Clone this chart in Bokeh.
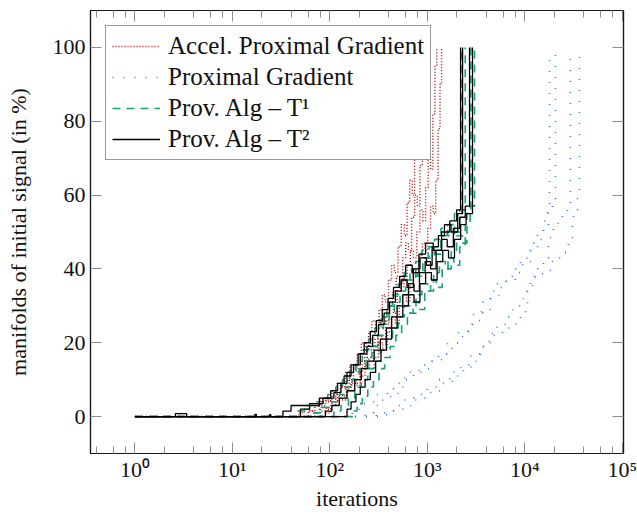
from bokeh.plotting import figure
from bokeh.models import (Legend, LegendItem, LogAxis, LinearAxis, FixedTicker,
                          LogTicker, CustomJSTickFormatter)
from bokeh.embed import file_html
from bokeh.resources import INLINE

FONT = "Liberation Serif"

# ---------------- axis ticks ----------------
x_ticks = [1, 10, 100, 1000, 10000, 100000]
x_tick_labels = ["10⁰", "10¹", "10²", "10³", "10⁴", "10⁵"]
y_ticks = [0, 20, 40, 60, 80, 100]

series_names = ["Accel. Proximal Gradient", "Proximal Gradient",
                "Prov. Alg – T¹", "Prov. Alg – T²"]

# ---------------- Accel. Proximal Gradient (4 runs) ----------------
apg1_it = [1, 48, 55, 62, 70, 80, 92, 105, 118, 130, 145, 160, 175, 190, 210, 230, 250, 270, 295, 320,
           345, 370, 400, 430, 460, 500, 540, 580, 620, 660, 700, 740, 780, 820, 860, 900, 930]
apg1_pc = [0, 1, 2, 1.5, 3, 5, 4, 7, 9, 8, 12, 14, 13, 17, 20, 18, 23, 26, 24, 29,
           33, 31, 37, 41, 39, 46, 52, 49, 58, 64, 60, 70, 78, 74, 88, 95, 100]
apg2_it = [1, 60, 68, 78, 90, 102, 115, 128, 142, 158, 175, 195, 215, 240, 265, 290, 315, 345, 375, 405,
           440, 480, 520, 560, 600, 640, 690, 740, 790, 840, 890, 940, 990, 1040]
apg2_pc = [0, 1.5, 1, 3, 4.5, 4, 6, 8, 7.5, 10, 13, 12, 15, 18, 21, 19, 24, 27, 25, 31,
           34, 38, 36, 43, 47, 45, 54, 60, 57, 68, 76, 85, 92, 100]
apg3_it = [1, 70, 80, 92, 105, 120, 135, 150, 168, 185, 205, 228, 252, 280, 310, 340, 375, 410, 450, 490,
           530, 575, 620, 670, 720, 780, 840, 900, 960, 1020, 1080, 1140, 1200, 1250]
apg3_pc = [0, 1, 2.5, 2, 4, 6, 5.5, 8, 10, 9, 13, 16, 15, 19, 22, 21, 26, 30, 28, 34,
           37, 35, 41, 45, 43, 50, 56, 53, 62, 70, 67, 82, 95, 100]
apg4_it = [1, 80, 90, 102, 115, 130, 148, 165, 185, 205, 230, 255, 285, 315, 350, 390, 430, 470, 515, 560,
           610, 660, 715, 770, 830, 890, 950, 1010, 1080, 1150, 1220, 1290, 1350, 1400]
apg4_pc = [0, 1.5, 1, 3, 5, 4.5, 7, 9, 8.5, 11, 14, 13, 16, 20, 18, 23, 27, 25, 30, 33,
           31, 36, 40, 38, 44, 47, 45, 51, 57, 55, 64, 78, 90, 100]

# ---------------- Proximal Gradient (4 runs) ----------------
pg1_it = [1, 170, 200, 245, 300, 390, 450, 532, 640, 721, 850, 1080, 1300, 1611, 2090, 2600, 2980,
          3700, 4450, 5250, 6400, 7500, 9030, 10500, 12270, 13490, 15550, 17090, 17910]
pg1_pc = [0, 1.5, 3.5, 4, 6, 7.5, 9, 10.5, 12, 12.5, 14, 15, 17, 20, 23, 25, 28,
          31, 34, 36, 38, 40, 42, 45, 47, 50, 53, 56, 98.4]
pg2_it = [1, 230, 280, 350, 420, 500, 600, 720, 900, 1100, 1400, 1800, 2300, 2900, 3600, 4400, 5400,
          6500, 8000, 9500, 11500, 13500, 15500, 17500, 19230, 20630]
pg2_pc = [0, 1, 3, 4.5, 6, 8, 10, 12, 13, 15, 17, 20, 23, 26, 29, 32, 35,
          37, 39, 42, 45, 48, 51, 55, 59, 98.4]
pg3_it = [1, 300, 400, 450, 560, 700, 850, 1000, 1300, 1700, 2200, 2800, 3500, 4300, 5200, 6300, 7500,
          9000, 10500, 12000, 13490, 15550, 17500, 19690, 22000, 24340, 27400, 29400]
pg3_pc = [0, 1, 1.6, 3, 4.5, 5, 6, 8, 10, 12, 14, 16.5, 19, 22, 25, 27, 30,
          32, 35, 38, 40, 43, 48.5, 51, 52.6, 55, 57.7, 98.4]
pg4_it = [1, 350, 450, 560, 673, 853, 1080, 1400, 1800, 2350, 2800, 3270, 3770, 4450, 5900, 7480, 9030,
          10170, 10660, 11430, 13490, 15550, 17500, 19230, 21640, 24920, 28060, 29400, 30800, 31550,
          34700, 35500, 36360]
pg4_pc = [0, 0.5, 1.6, 3, 4.5, 5, 7, 9, 11, 13, 15, 17, 19, 22.5, 24, 25, 28,
          30, 34, 37.7, 38.7, 39, 39.6, 42, 43, 44.4, 47, 48.5, 52, 56,
          59, 60, 98.4]

# ---------------- Prov. Alg - T1 (4 runs) ----------------
t1a_it = [1, 45, 55, 70, 95, 115, 135, 160, 185, 215, 250, 290, 335, 385, 440, 505, 580, 665, 760, 880,
          1020, 1180, 1380, 1620, 1900, 2250]
t1a_pc = [0, 1.5, 3, 4, 6, 8, 10, 12, 15, 18, 21, 24, 27, 30, 33, 36, 39, 37, 42, 45,
          43, 48, 51, 49, 55, 100]
t1b_it = [1, 65, 80, 100, 125, 145, 170, 200, 235, 270, 310, 355, 405, 460, 525, 600, 690, 790, 900, 1040,
          1200, 1380, 1600, 1850, 2150, 2450]
t1b_pc = [0, 1, 2.5, 4, 6, 8, 10, 13, 16, 19, 22, 25, 28, 31, 34, 37, 40, 38, 43, 46,
          44, 49, 52, 50, 56, 100]
t1c_it = [1, 110, 130, 155, 180, 210, 245, 285, 330, 380, 440, 505, 580, 665, 765, 880, 1010, 1160, 1330,
          1530, 1760, 2000, 2300, 2550, 2800]
t1c_pc = [0, 1.5, 3, 5, 8, 10, 13, 15, 18, 21, 24, 27, 30, 28, 33, 36, 34, 39, 42,
          40, 45, 49, 47, 55, 100]
t1d_it = [1, 170, 190, 215, 245, 280, 320, 365, 415, 475, 545, 625, 715, 820, 940, 1080, 1240, 1420, 1630,
          1870, 2150, 2450, 2750, 3050]
t1d_pc = [0, 1.5, 3.5, 5.5, 8, 10, 13, 16, 19, 22, 25, 28, 31, 29, 34, 37, 35, 40, 43,
          41, 46, 52, 57, 100]

# ---------------- Prov. Alg - T2 (4 runs) ----------------
t2a_it = [1, 2.6, 3.4, 33, 40, 78, 102, 120, 140, 165, 195, 225, 260, 300, 345, 395, 450, 520, 600, 700,
          820, 960, 1150, 1400, 1700, 2000, 2193]
t2a_pc = [0, 0.8, 0, 1.5, 3, 5, 7, 9, 11, 14, 17, 20, 23, 26, 29, 32, 35, 38, 41, 39,
          44, 47, 45, 50, 53, 56, 100]
t2b_it = [1, 17, 17.6, 50, 62, 85, 110, 130, 150, 175, 205, 240, 275, 315, 360, 410, 470, 540, 620, 720,
          840, 980, 1120, 1300, 1500, 1750, 2050, 2300]
t2b_pc = [0, 0.6, 0, 2, 3.5, 5, 6.5, 9, 12, 14, 17, 19, 22, 25, 28, 31, 34, 37, 35, 40,
          43, 41, 46, 49, 52, 50, 55, 100]
t2c_it = [1, 24, 24.8, 90, 105, 125, 150, 180, 210, 245, 285, 330, 380, 430, 490, 560, 640, 730, 830, 950,
          1080, 1230, 1400, 1600, 1850, 2150, 2450, 2711]
t2c_pc = [0, 0.5, 0, 1.5, 3, 5, 7, 10, 13, 15, 18, 21, 24, 27, 30, 33, 36, 34, 39, 42,
          40, 45, 48, 46, 51, 54, 57, 100]
t2d_it = [1, 150, 165, 185, 205, 230, 260, 295, 335, 380, 430, 490, 560, 640, 730, 840, 960, 1100, 1260,
          1440, 1650, 1900, 2200, 2500, 2909]
t2d_pc = [0, 2, 4, 6, 8, 10, 12, 15, 18, 21, 24, 27, 30, 33, 31, 36, 39, 37, 42,
          45, 43, 48, 52, 55, 100]

runs = [
    [(apg1_it, apg1_pc), (apg2_it, apg2_pc), (apg3_it, apg3_pc), (apg4_it, apg4_pc)],
    [(pg1_it, pg1_pc), (pg2_it, pg2_pc), (pg3_it, pg3_pc), (pg4_it, pg4_pc)],
    [(t1a_it, t1a_pc), (t1b_it, t1b_pc), (t1c_it, t1c_pc), (t1d_it, t1d_pc)],
    [(t2a_it, t2a_pc), (t2b_it, t2b_pc), (t2c_it, t2c_pc), (t2d_it, t2d_pc)],
]
styles = [
    dict(line_color="#b80000", line_dash="1 2", line_width=1.4),
    dict(line_color="#2a78ff", line_dash="1 10", line_width=1.6),
    dict(line_color="#17a07a", line_dash="8 6", line_width=1.6),
    dict(line_color="#000000", line_dash="solid", line_width=1.3),
]

p = figure(width=637, height=515, x_axis_type="log",
           x_range=(0.35, 1.03e5), y_range=(-10, 110),
           output_backend="svg", toolbar_location=None,
           min_border_left=90, min_border_right=14, min_border_top=10, min_border_bottom=62,
           background_fill_color="white", border_fill_color="white")
p.grid.visible = False
p.outline_line_color = "#1a1a1a"
p.outline_line_width = 1.2

first = []
for group, st in zip(runs, styles):
    rs = []
    for xs, ys in group:
        rs.append(p.step(xs, ys, mode="after", **st))
    first.append(rs[0])


def style_axis(ax, show_labels=True):
    ax.major_tick_in = 11
    ax.major_tick_out = 0
    ax.minor_tick_in = 7
    ax.minor_tick_out = 0
    ax.major_tick_line_color = "#8c8c8c"
    ax.minor_tick_line_color = "#8c8c8c"
    ax.axis_line_color = "#1a1a1a"
    ax.axis_line_width = 1.2
    ax.major_label_text_font = FONT
    ax.major_label_text_color = "#111111"
    ax.axis_label_text_font = FONT
    ax.axis_label_text_font_size = "22px"
    ax.axis_label_text_font_style = "normal"
    ax.axis_label_text_color = "#111111"
    if show_labels:
        ax.major_label_text_font_size = "22px"
    else:
        ax.major_label_text_font_size = "0px"
        ax.major_label_standoff = 0
        ax.formatter = CustomJSTickFormatter(code="return ''")


xa = p.xaxis[0]
xa.ticker = LogTicker()
xa.major_label_overrides = dict(zip(x_ticks, x_tick_labels))
style_axis(xa)
xa.axis_label = "iterations"
xa.major_label_standoff = 3
xa.axis_label_standoff = 1

ya = p.yaxis[0]
ya.ticker = FixedTicker(ticks=y_ticks)
style_axis(ya)
ya.axis_label = "manifolds of initial signal (in %)"
ya.major_label_standoff = 5
ya.axis_label_standoff = 19

top = LogAxis(ticker=LogTicker())
style_axis(top, show_labels=False)
p.add_layout(top, "above")

right = LinearAxis(ticker=FixedTicker(ticks=y_ticks))
style_axis(right, show_labels=False)
p.add_layout(right, "right")

legend = Legend(items=[LegendItem(label=n, renderers=[r]) for n, r in zip(series_names, first)],
                location="top_left", margin=15, padding=6, spacing=3,
                glyph_width=48, glyph_height=24, label_height=24, label_standoff=8,
                label_text_font=FONT, label_text_font_size="25px", label_text_color="#111111",
                border_line_color="#333333", border_line_width=1.2,
                background_fill_color="white", background_fill_alpha=1.0)
p.add_layout(legend)

open("out.html", "w").write(file_html(p, INLINE))
